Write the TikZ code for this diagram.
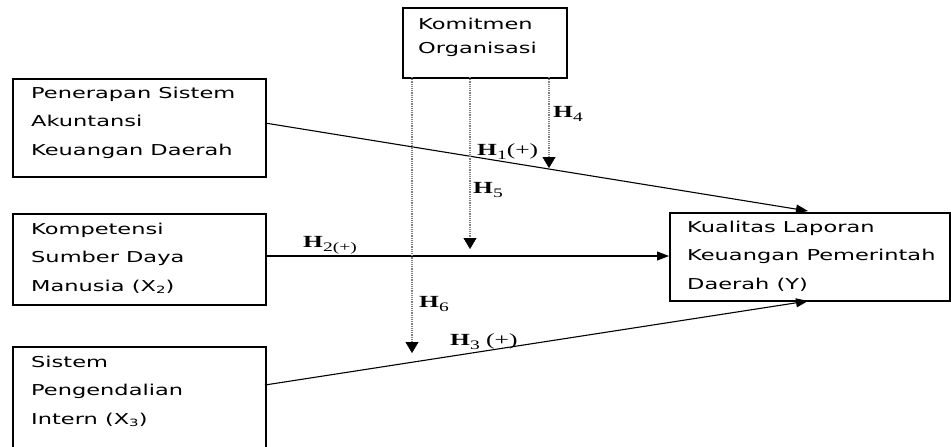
\documentclass[tikz,border=0pt]{standalone}
\usepackage{fontspec}
\usetikzlibrary{arrows.meta}
\newfontfamily\boxfont[FakeStretch=1.5]{DejaVu Sans}
\newfontfamily\hfont[FakeStretch=1.5]{Liberation Serif}
\newcommand{\Hlab}[2]{{\bfseries H}\raisebox{-4pt}{\fontsize{13}{13}\selectfont #1}#2}
\tikzset{
  box/.style={draw=black, line width=1.8pt, inner sep=0pt},
  boxtxt/.style={font=\boxfont\fontsize{15}{28.5}\selectfont, align=left, anchor=base west, inner sep=0pt},
  hlab/.style={font=\hfont\fontsize{17}{17}\selectfont, anchor=base west, inner sep=0pt},
  arr/.style={line width=1.1pt, -{Triangle[length=12pt,width=9pt]}},
  darr/.style={line width=1.2pt, densely dotted, draw=black!50, -{Triangle[length=11pt,width=13pt,color=black,fill=black,line width=0.4pt,sep=0pt]}}
}
\begin{document}
\begin{tikzpicture}[x=1pt,y=-1pt]
\useasboundingbox (0,0) rectangle (951,447);
\clip (0,0) rectangle (951,447);
% boxes
\node[box, minimum width=164pt, minimum height=70pt, anchor=north west] (K) at (402,7) {};
\node[box, minimum width=253pt, minimum height=98pt, anchor=north west] (A) at (12,78) {};
\node[box, minimum width=253pt, minimum height=91pt, anchor=north west] (B) at (12,213) {};
\node[box, minimum width=253pt, minimum height=120pt, anchor=north west] (C) at (12,346) {};
\node[box, minimum width=280pt, minimum height=88pt, anchor=north west] (Y) at (669,212) {};
% texts (anchored at the baseline of the last line)
\node[boxtxt, font=\boxfont\fontsize{15}{24}\selectfont] (tK) at (418,53) {Komitmen\\Organisasi};
\node[boxtxt] (tA) at (31,155) {Penerapan Sistem\\Akuntansi\\Keuangan Daerah};
\node[boxtxt] (tB) at (31,291) {Kompetensi\\Sumber Daya\\Manusia (X\raisebox{-2pt}{\fontsize{10}{10}\selectfont 2})};
\node[boxtxt] (tC) at (31,424) {Sistem\\Pengendalian\\Intern (X\raisebox{-2pt}{\fontsize{10}{10}\selectfont 3})};
\node[boxtxt] (tY) at (687,289) {Kualitas Laporan\\Keuangan Pemerintah\\Daerah (Y)};
% coordinates
\coordinate (a1) at (265,123);
\coordinate (y1) at (808,211);
\coordinate (b1) at (265,256);
\coordinate (y2) at (669,256);
\coordinate (c1) at (265,385);
\coordinate (y3) at (808,301);
\coordinate (k1) at (412,77);
\coordinate (k1e) at (412,353);
\coordinate (k2) at (470,77);
\coordinate (k2e) at (470,249);
\coordinate (k3) at (549,77);
\coordinate (k3e) at (549,168);
% main arrows
\draw[arr] (a1) -- (y1);
\draw[arr] (b1) -- (y2);
\draw[arr] (c1) -- (y3);
% dotted arrows
\draw[darr] (k1) -- (k1e);
\draw[darr] (k2) -- (k2e);
\draw[darr] (k3) -- (k3e);
% labels
\node[hlab] (h4) at (553,117) {\Hlab{4}{}};
\node[hlab] (h1) at (477,155) {\Hlab{1}{(+)}};
\node[hlab] (h5) at (473,193) {\Hlab{5}{}};
\node[hlab] (h2) at (303,247) {\Hlab{2(+)}{}};
\node[hlab] (h6) at (419,307) {\Hlab{6}{}};
\node[hlab] (h3) at (450,345) {\Hlab{3}{ (+)}};
\end{tikzpicture}
\end{document}
